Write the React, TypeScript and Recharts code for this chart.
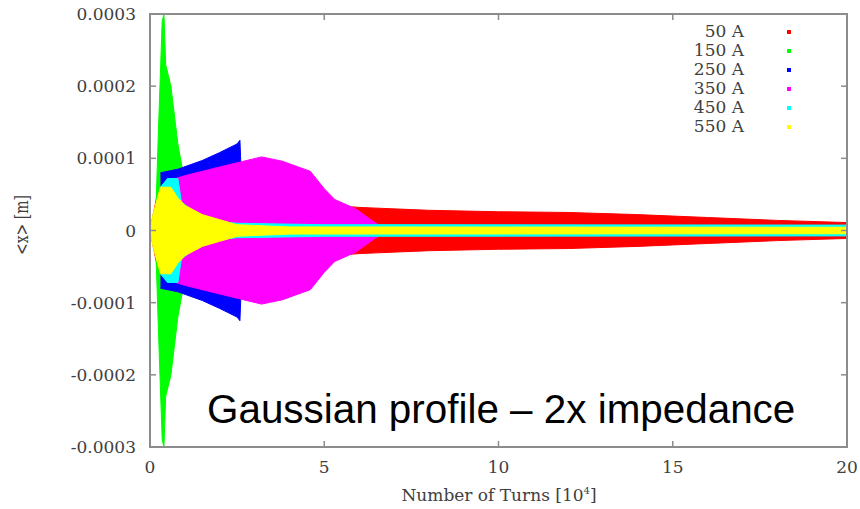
import React from 'react'
import { ComposedChart, Area, XAxis, YAxis, ReferenceArea } from 'recharts'

document.body.style.margin = '0'

// series: beam current, drawn in this order (last one on top)
const seriesNames = ['50 A', '150 A', '250 A', '350 A', '450 A', '550 A']
const seriesKeys = ['a50', 'a150', 'a250', 'a350', 'a450', 'a550']
const seriesColors = ['#ff0000', '#00ff00', '#0000ff', '#ff00ff', '#00ffff', '#ffff00']

// envelope of the tracked <x> per series: turns [10^4] and half-width [m]
const turns50 = [0, 0.25, 0.4, 0.6, 1, 2, 4, 6, 8, 10, 12, 14, 16, 18, 20]
const amp50 = [0, 0.00006, 0.00014, 0.00009, 0.00006, 0.00005, 0.00004, 0.000032, 0.000028, 0.000026, 0.000025, 0.000022, 0.000018, 0.000014, 0.000011]

const turns150 = [0.15, 0.25, 0.35, 0.4, 0.45, 0.6, 0.8, 0.95, 1.1, 20]
const amp150 = [0, 0.00015, 0.00029, 0.0003, 0.00023, 0.0002, 0.00012, 0.00008, 0.000008, 0.000006]

const turns250 = [0.3, 0.8, 1.5, 2, 2.5, 2.58, 2.65]
const amp250 = [0.00008, 0.000085, 0.000097, 0.000108, 0.00012, 0.000125, 0.00004]

const turns350 = [0.6, 1, 2, 3.2, 3.8, 4.6, 5, 5.3, 5.9, 6.6]
const amp350 = [0.00007, 0.000076, 0.000088, 0.000102, 0.000096, 0.000082, 0.000058, 0.000043, 0.00003, 0.000006]

const turns450 = [0.3, 0.5, 0.8, 0.9, 1.5, 2.5, 5, 20]
const amp450 = [0.00006, 0.000072, 0.000072, 0.00004, 0.000015, 0.00001, 0.000008, 0.0000075]

const turns550 = [0, 0.1, 0.3, 0.6, 0.8, 1, 1.5, 2, 2.5, 4, 20]
const amp550 = [0, 0.000025, 0.00006, 0.00006, 0.000045, 0.000035, 0.000022, 0.000015, 0.000008, 0.000005, 0.0000045]

const xTicks = [0, 5, 10, 15, 20]
const yTicks = [-0.0003, -0.0002, -0.0001, 0, 0.0001, 0.0002, 0.0003]

const envelopes = [
  { x: turns50, a: amp50 },
  { x: turns150, a: amp150 },
  { x: turns250, a: amp250 },
  { x: turns350, a: amp350 },
  { x: turns450, a: amp450 },
  { x: turns550, a: amp550 },
]

const allTurns = Array.from(new Set(envelopes.flatMap((e) => e.x))).sort((p, q) => p - q)
const data = allTurns.map((t) => {
  const row: Record<string, number | number[]> = { x: t }
  envelopes.forEach((e, i) => {
    const j = e.x.indexOf(t)
    if (j >= 0) row[seriesKeys[i]] = [-e.a[j], e.a[j]]
  })
  return row
})

const W = 860
const H = 509
const Y_AXIS_W = 150
const X_AXIS_H = 62
const MARGIN = { top: 14, right: 13, bottom: 0, left: 0 }
const PLOT_TOP = MARGIN.top
const PLOT_RIGHT = W - MARGIN.right
const PLOT_LEFT = MARGIN.left + Y_AXIS_W
const PLOT_BOTTOM = H - MARGIN.bottom - X_AXIS_H

const BORDER = '#8c8c8c'
const LABEL = '#404040'
const SERIF = '"DejaVu Serif", "Liberation Serif", serif'

const fmtY = (v: number) => (v === 0 ? '0' : v.toFixed(4))

// gnuplot style: ticks point inwards and are mirrored on top / right
const BottomTick = (props: any) => {
  const { x, payload } = props
  const edge = payload.value === 0 || payload.value === 20
  return (
    <g>
      {!edge && <line x1={x} y1={PLOT_BOTTOM} x2={x} y2={PLOT_BOTTOM - 6} stroke={BORDER} strokeWidth={1.5} />}
      {!edge && <line x1={x} y1={PLOT_TOP} x2={x} y2={PLOT_TOP + 6} stroke={BORDER} strokeWidth={1.5} />}
      <text x={x} y={PLOT_BOTTOM + 14} dy="0.71em" textAnchor="middle" fontFamily={SERIF} fontSize={17} fill={LABEL}>
        {payload.value}
      </text>
    </g>
  )
}

const LeftTick = (props: any) => {
  const { y, payload } = props
  const edge = Math.abs(payload.value) > 0.00025
  return (
    <g>
      {!edge && <line x1={PLOT_LEFT} y1={y} x2={PLOT_LEFT + 6} y2={y} stroke={BORDER} strokeWidth={1.5} />}
      {!edge && <line x1={PLOT_RIGHT} y1={y} x2={PLOT_RIGHT - 6} y2={y} stroke={BORDER} strokeWidth={1.5} />}
      <text x={PLOT_LEFT - 14} y={y} dy="0.36em" textAnchor="end" fontFamily={SERIF} fontSize={17} fill={LABEL}>
        {fmtY(payload.value)}
      </text>
    </g>
  )
}

export default function App() {
  return (
    <div style={{ position: 'relative', width: W, height: H, background: '#fff' }}>
      <ComposedChart width={W} height={H} data={data} margin={MARGIN}>
        <XAxis
          dataKey="x"
          type="number"
          domain={[0, 20]}
          ticks={xTicks}
          allowDataOverflow
          height={X_AXIS_H}
          tickLine={false}
          tick={BottomTick}
          axisLine={false}
        />
        <YAxis
          type="number"
          domain={[-0.0003, 0.0003]}
          ticks={yTicks}
          allowDataOverflow
          width={Y_AXIS_W}
          tickLine={false}
          tick={LeftTick}
          axisLine={false}
        />
        {seriesKeys.map((k, i) => (
          <Area
            key={k}
            type="linear"
            dataKey={k}
            name={seriesNames[i]}
            fill={seriesColors[i]}
            fillOpacity={1}
            stroke={seriesColors[i]}
            strokeWidth={1}
            connectNulls
            isAnimationActive={false}
          />
        ))}
        <ReferenceArea x1={0} x2={20} y1={-0.0003} y2={0.0003} fill="none" stroke={BORDER} strokeWidth={2} />
      </ComposedChart>

      {/* axis titles */}
      <div
        style={{
          position: 'absolute',
          left: 21,
          top: 225,
          transform: 'translate(-50%, -50%) rotate(-90deg) scaleY(1.3)',
          fontFamily: SERIF,
          fontSize: 14,
          color: LABEL,
          whiteSpace: 'nowrap',
        }}
      >
        {'<x> [m]'}
      </div>
      <div
        style={{
          position: 'absolute',
          left: 499,
          top: 495,
          transform: 'translate(-50%, -50%)',
          fontFamily: SERIF,
          fontSize: 17,
          color: LABEL,
          whiteSpace: 'nowrap',
        }}
      >
        Number of Turns [10<sup style={{ fontSize: 10 }}>4</sup>]
      </div>

      {/* legend */}
      <div style={{ position: 'absolute', left: 600, top: 22 }}>
        {seriesNames.map((n, i) => (
          <div key={n} style={{ display: 'flex', alignItems: 'center', height: 19 }}>
            <span
              style={{ width: 144, textAlign: 'right', fontFamily: SERIF, fontSize: 17, color: LABEL, lineHeight: '19px' }}
            >
              {n}
            </span>
            <span style={{ marginLeft: 43, width: 4, height: 4, background: seriesColors[i] }} />
          </div>
        ))}
      </div>

      <div
        style={{
          position: 'absolute',
          left: 207,
          top: 421,
          transform: 'translateY(-80%)',
          fontFamily: '"Liberation Sans", Arial, sans-serif',
          fontSize: 40.4,
          color: '#000',
          whiteSpace: 'nowrap',
          lineHeight: 1,
        }}
      >
        Gaussian profile – 2x impedance
      </div>
    </div>
  )
}
